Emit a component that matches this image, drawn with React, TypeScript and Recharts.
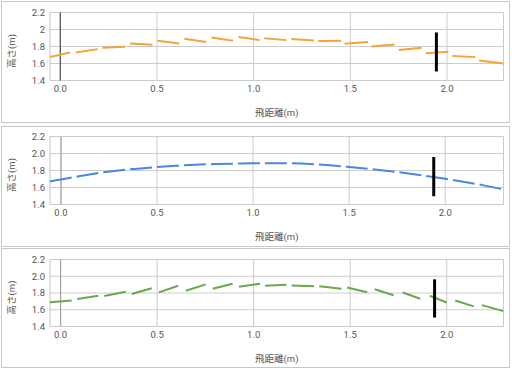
import React from 'react';
import { LineChart, Line, XAxis, YAxis, CartesianGrid, ReferenceLine, Label } from 'recharts';

const FONT = "Roboto, 'Noto Sans CJK JP', sans-serif";

const xTicks = [0, 0.5, 1, 1.5, 2];
const xMinorTicks = [
  0, 0.0833, 0.1667, 0.25, 0.3333, 0.4167, 0.5, 0.5833, 0.6667, 0.75, 0.8333, 0.9167,
  1, 1.0833, 1.1667, 1.25, 1.3333, 1.4167, 1.5, 1.5833, 1.6667, 1.75, 1.8333, 1.9167,
  2, 2.0833, 2.1667, 2.25,
];
const yTicks = [1.4, 1.6, 1.8, 2.0, 2.2];

// 1段目 (オレンジ): 破線の各区間 [x1, y1, x2, y2]
const orangeDashes = [
  [-0.053, 1.675, 0.05, 1.729],
  [0.081, 1.729, 0.194, 1.769],
  [0.218, 1.785, 0.335, 1.796],
  [0.361, 1.835, 0.477, 1.82],
  [0.503, 1.867, 0.615, 1.835],
  [0.642, 1.891, 0.755, 1.852],
  [0.782, 1.906, 0.893, 1.867],
  [0.922, 1.911, 1.031, 1.875],
  [1.055, 1.896, 1.169, 1.875],
  [1.195, 1.887, 1.311, 1.871],
  [1.334, 1.864, 1.453, 1.867],
  [1.47, 1.832, 1.591, 1.852],
  [1.61, 1.8, 1.729, 1.824],
  [1.75, 1.758, 1.869, 1.785],
  [1.89, 1.722, 2.007, 1.738],
  [2.028, 1.687, 2.147, 1.675],
  [2.166, 1.635, 2.292, 1.6],
];

// 2段目 (青): なめらかな軌跡
const blueX = [-0.057, 0, 0.1, 0.2, 0.3, 0.4, 0.5, 0.6, 0.7, 0.8, 0.9, 1.0, 1.1, 1.2, 1.3, 1.4, 1.5, 1.6, 1.7, 1.8, 1.9, 2.0, 2.1, 2.2, 2.303];
const blueY = [1.673, 1.695, 1.735, 1.772, 1.8, 1.822, 1.84, 1.855, 1.868, 1.876, 1.881, 1.885, 1.886, 1.884, 1.876, 1.862, 1.842, 1.82, 1.795, 1.768, 1.736, 1.702, 1.666, 1.625, 1.578];

// 3段目 (緑)
const greenDashes = [
  [-0.055, 1.69, 0.057, 1.709],
  [0.086, 1.729, 0.195, 1.768],
  [0.226, 1.764, 0.337, 1.815],
  [0.368, 1.788, 0.472, 1.856],
  [0.509, 1.808, 0.609, 1.887],
  [0.649, 1.827, 0.751, 1.903],
  [0.788, 1.851, 0.891, 1.91],
  [0.924, 1.875, 1.033, 1.91],
  [1.059, 1.887, 1.17, 1.899],
  [1.197, 1.891, 1.312, 1.88],
  [1.34, 1.88, 1.455, 1.85],
  [1.484, 1.865, 1.588, 1.808],
  [1.627, 1.844, 1.725, 1.773],
  [1.772, 1.806, 1.863, 1.731],
  [1.912, 1.767, 2.0, 1.687],
  [2.044, 1.711, 2.14, 1.64],
  [2.182, 1.655, 2.294, 1.584],
];

// 黒い目印の縦線
const markerX = [1.945, 1.94, 1.937];
const markerTop = [1.965, 1.958, 1.963];
const markerBottom = [1.506, 1.497, 1.507];

const dashRows = (dashes: number[][]) =>
  dashes.flatMap(([x1, y1, x2, y2]) => [
    { x: x1, y: y1 },
    { x: x2, y: y2 },
    { x: x2, y: null },
  ]);

const blueRows = blueX.map((x, i) => ({ x, y: blueY[i] }));

const XTitle = ({ viewBox }: any) => (
  <text
    x={viewBox.x + viewBox.width / 2}
    y={viewBox.y + 31.5}
    textAnchor="middle"
    dominantBaseline="central"
    fontSize={9.5}
    fill="#555"
    fontFamily={FONT}
  >
    飛距離(m)
  </text>
);

const YTitle = ({ viewBox }: any) => {
  const cx = viewBox.x + 9.7;
  const cy = viewBox.y + viewBox.height / 2 + 4.5;
  return (
    <text
      x={cx}
      y={cy}
      transform={`rotate(-90 ${cx} ${cy})`}
      textAnchor="middle"
      dominantBaseline="central"
      fontSize={9.5}
      fill="#555"
      fontFamily={FONT}
    >
      高さ(m)
    </text>
  );
};

interface PanelProps {
  top: number;
  height: number;
  plotTop: number;
  plotHeight: number;
  domain: [number, number];
  rows: { x: number; y: number | null }[];
  color: string;
  smooth?: boolean;
  baseline: string;
  idx: number;
  yFmt: (v: number) => string;
}

const Panel = ({ top, height, plotTop, plotHeight, domain, rows, color, smooth, baseline, idx, yFmt }: PanelProps) => {
  const tickStyle = { fontSize: 9.5, fill: '#555', fontFamily: FONT };
  return (
    <div
      style={{
        position: 'absolute',
        left: 1,
        top,
        width: 509,
        height,
        boxSizing: 'border-box',
        border: '1px solid #c8c8c8',
        background: '#fff',
      }}
    >
      <LineChart width={507} height={height - 2} margin={{ top: plotTop, right: 5.5, bottom: 0, left: 0 }}>
        <CartesianGrid xAxisId="minor" horizontal={false} stroke="#ebebeb" />
        <CartesianGrid xAxisId="main" stroke="#cccccc" />
        <XAxis
          xAxisId="main"
          dataKey="x"
          type="number"
          domain={domain}
          allowDataOverflow
          ticks={xTicks}
          interval={0}
          tickFormatter={(v: number) => v.toFixed(1)}
          tick={tickStyle}
          tickLine={false}
          axisLine={false}
          tickSize={0}
          tickMargin={5}
          height={height - 2 - plotTop - plotHeight}
        >
          <Label content={XTitle} />
        </XAxis>
        <XAxis
          xAxisId="minor"
          dataKey="x"
          type="number"
          domain={domain}
          allowDataOverflow
          ticks={xMinorTicks}
          interval={0}
          tick={false}
          tickLine={false}
          axisLine={false}
          height={0}
        />
        <YAxis
          type="number"
          domain={[1.4, 2.2]}
          ticks={yTicks}
          interval={0}
          allowDataOverflow
          tickFormatter={yFmt}
          tick={tickStyle}
          tickLine={false}
          axisLine={false}
          tickSize={0}
          tickMargin={5}
          width={48}
        >
          <Label content={YTitle} />
        </YAxis>
        <ReferenceLine xAxisId="main" x={0} stroke={baseline} strokeWidth={1} />
        <Line
          xAxisId="main"
          data={rows}
          dataKey="y"
          type={smooth ? 'monotone' : 'linear'}
          stroke={color}
          strokeWidth={2}
          strokeDasharray={smooth ? '22 5' : undefined}
          dot={false}
          activeDot={false}
          connectNulls={false}
          isAnimationActive={false}
        />
        <ReferenceLine
          xAxisId="main"
          segment={[
            { x: markerX[idx], y: markerBottom[idx] },
            { x: markerX[idx], y: markerTop[idx] },
          ]}
          stroke="#000"
          strokeWidth={3}
        />
      </LineChart>
    </div>
  );
};

export default function App() {
  return (
    <div style={{ position: 'absolute', left: 0, top: 0, width: 512, height: 371, background: '#fff' }}>
      <Panel
        top={1}
        height={122}
        plotTop={10.5}
        plotHeight={68}
        domain={[-0.053, 2.292]}
        rows={dashRows(orangeDashes)}
        color="#f5a33a"
        baseline="#333333"
        idx={0}
        yFmt={(v) => String(v)}
      />
      <Panel
        top={126}
        height={121}
        plotTop={9.5}
        plotHeight={68}
        domain={[-0.057, 2.303]}
        rows={blueRows}
        color="#4a86e8"
        smooth
        baseline="#999999"
        idx={1}
        yFmt={(v) => v.toFixed(1)}
      />
      <Panel
        top={248}
        height={120}
        plotTop={10.5}
        plotHeight={67}
        domain={[-0.055, 2.294]}
        rows={dashRows(greenDashes)}
        color="#6aa84f"
        baseline="#999999"
        idx={2}
        yFmt={(v) => v.toFixed(1)}
      />
    </div>
  );
}
